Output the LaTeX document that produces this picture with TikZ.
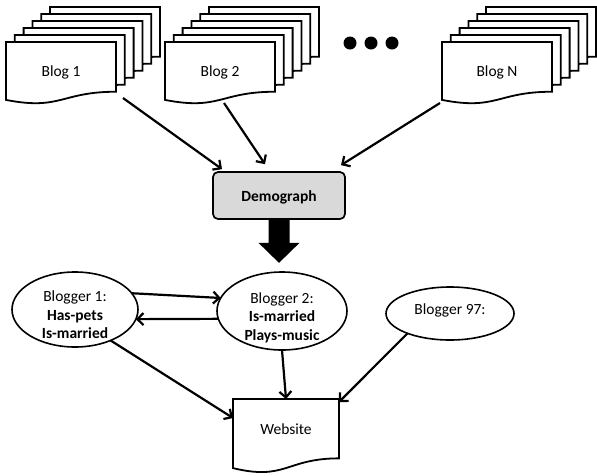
\documentclass[tikz,border=0pt]{standalone}
\usepackage{fontspec}
\setmainfont{Carlito}
\usetikzlibrary{arrows.meta,calc,shapes.geometric}
\newcommand\docsheet[4]{\filldraw[sheetline] ({#1},{#2}) -- ({#1+#3},{#2}) -- ({#1+#3},{#2+0.802*#4}) .. controls ({#1+0.5*#3},{#2+0.802*#4}) and ({#1+0.5*#3},{#2+1.107*#4}) .. ({#1},{#2+0.934*#4}) -- cycle;}
\newcommand\docstack[2]{\foreach \k in {5,4,3,2,1}{\docsheet{#1+8.8*\k}{#2-7*\k}{110}{62}}\docsheet{#1}{#2}{110}{62}}
\begin{document}
\begin{tikzpicture}[x=1pt,y=-1pt,
  font=\fontsize{15.5}{18.5}\selectfont,
  sheetline/.style={draw=black, fill=white, line width=1.8pt, line join=miter},
  doclabel/.style={draw=none, inner sep=0pt, outer sep=0pt, minimum width=110pt, minimum height=62pt, text height=11pt, text depth=5pt},
  conn/.style={line width=2.2pt, -{Straight Barb[length=6pt,width=12pt]}},
  bubble/.style={ellipse, draw=black, line width=1.6pt, inner sep=0pt, outer sep=0pt},
  btext/.style={align=center, inner sep=0pt},
  demo/.style={rectangle, draw=black, fill=black!15, line width=1.7pt, rounded corners=5pt, inner sep=0pt, minimum width=132pt, minimum height=47pt, text height=11pt, text depth=0pt}]
\useasboundingbox (0,0) rectangle (597,475);

% blog stacks
\docstack{6}{42}
\node[doclabel] (blog1) at (61,73) {Blog 1};
\docstack{165}{42}
\node[doclabel] (blog2) at (220,73) {Blog 2};
\docstack{442}{42}
\node[doclabel] (blogN) at (497,73) {Blog N};

% dots
\fill (350,43) circle[radius=6.5pt];
\fill (371,43) circle[radius=6.5pt];
\fill (392,43) circle[radius=6.5pt];

% demograph
\node[demo] (dem) at (279,195.5) {\textbf{Demograph}};

\draw[conn] ([xshift=7pt,yshift=6pt]blog1.south east) -- ([xshift=-57pt,yshift=2pt]dem.north);
\draw[conn] ([xshift=4pt,yshift=1pt]blog2.south) -- ([xshift=-14pt,yshift=7pt]dem.north);
\draw[conn] ([xshift=-2pt,yshift=1pt]blogN.south west) -- ([xshift=62pt,yshift=6pt]dem.north);

% fat arrow
\fill ([xshift=-10.5pt]dem.south) -- ++(21,0) -- ++(0,23) -- ++(10,0) -- ++(-20.5,20) -- ++(-20.5,-20) -- ++(10,0) -- cycle;

% bloggers
\node[bubble, minimum width=126pt, minimum height=75pt] (bl1) at (75,309.5) {};
\node[btext] (bl1t) at (75,315) {Blogger 1:\\\textbf{Has-pets}\\\textbf{Is-married}};
\node[bubble, minimum width=130pt, minimum height=78pt] (bl2) at (282,311) {};
\node[btext] (bl2t) at (282,317.5) {Blogger 2:\\\textbf{Is-married}\\\textbf{Plays-music}};
\node[bubble, minimum width=128pt, minimum height=53pt] (bl97) at (450,313.5) {};
\node[btext] (bl97t) at (450,310.5) {Blogger 97:};

% website
\docsheet{233}{399}{106}{74}
\node[doclabel, minimum width=106pt, minimum height=74pt, text height=9pt, text depth=13pt] (web) at (286,436) {Website};

% connectors
\draw[conn] (bl1.16) -- (bl2.168);
\draw[conn] (bl2.187) -- (bl1.-9);
\draw[conn] (bl1.-41) -- ([yshift=-19pt]web.north west);
\draw[conn] (bl2.south) -- (web.north);
\draw[conn] (bl97.205) -- ([yshift=-3pt]web.north east);
\end{tikzpicture}
\end{document}
